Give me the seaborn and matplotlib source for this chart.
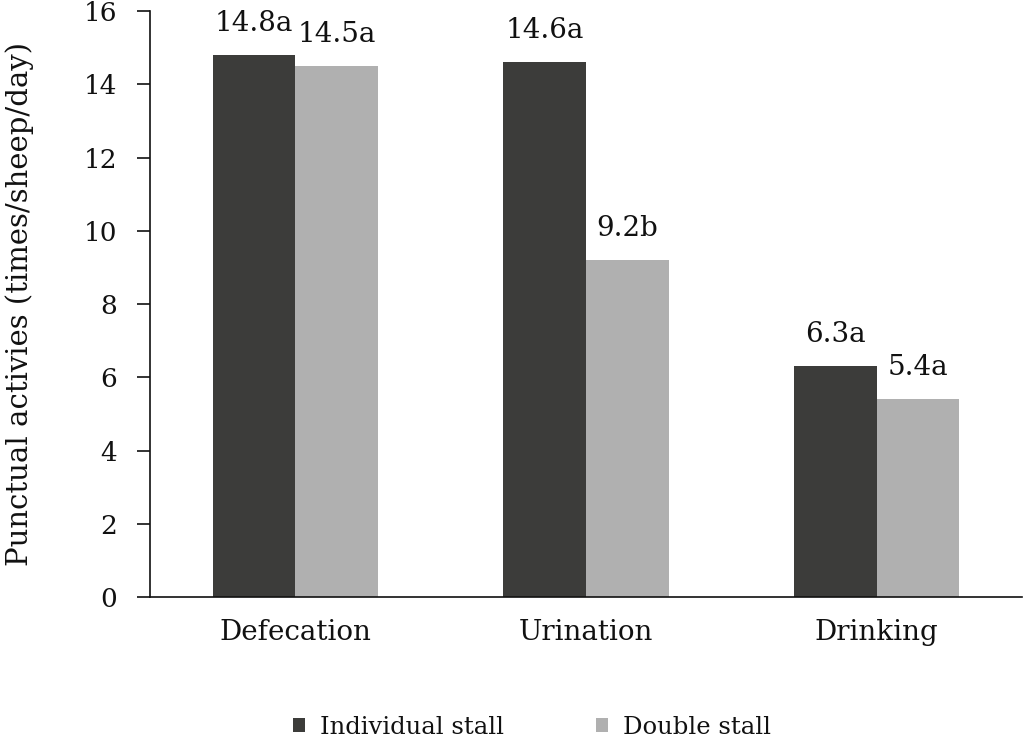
import matplotlib
matplotlib.use("Agg")
import matplotlib.pyplot as plt
import seaborn as sns
import pandas as pd

categories = ["Defecation", "Urination", "Drinking"]
individual = [14.8, 14.6, 6.3]
double = [14.5, 9.2, 5.4]
individual_letters = ["a", "a", "a"]
double_letters = ["a", "b", "a"]
series_names = ["Individual stall", "Double stall"]
yticks = [0, 2, 4, 6, 8, 10, 12, 14, 16]

df = pd.DataFrame({
    "cat": categories * 2,
    "val": individual + double,
    "series": [series_names[0]] * 3 + [series_names[1]] * 3,
})

sns.set_theme(style="white")
plt.rcParams["font.family"] = ["DejaVu Serif"]
plt.rcParams["text.color"] = "#111111"
plt.rcParams["xtick.color"] = "#111111"
plt.rcParams["ytick.color"] = "#111111"
plt.rcParams["axes.labelcolor"] = "#111111"

fig = plt.figure(figsize=(10.24, 7.41), dpi=100)
ax = fig.add_axes([0.1465, 0.1943, 0.8515, 0.7907])

sns.barplot(data=df, x="cat", y="val", hue="series", order=categories,
            hue_order=series_names, palette=["#3c3c3a", "#b0b0b0"],
            width=0.57, saturation=1, linewidth=0, ax=ax, legend=True)

labels_sets = [
    [f"{v}{l}" for v, l in zip(individual, individual_letters)],
    [f"{v}{l}" for v, l in zip(double, double_letters)],
]
for cont, labs in zip(ax.containers, labels_sets):
    ax.bar_label(cont, labels=labs, padding=13, fontsize=20, color="#111111")

ax.set_ylim(0, 16)
ax.set_xlim(-0.5, 2.5)
ax.set_yticks(yticks)
ax.set_xlabel("")
ax.set_ylabel("Punctual activies (times/sheep/day)", fontsize=21, labelpad=36)
ax.tick_params(axis="y", left=True, labelsize=19, length=9.5, width=1.2,
               direction="out", pad=14)
ax.tick_params(axis="x", bottom=False, labelsize=20, length=0, pad=16)
for s in ["top", "right"]:
    ax.spines[s].set_visible(False)
for s in ["left", "bottom"]:
    ax.spines[s].set_color("#111111")
    ax.spines[s].set_linewidth(1.2)

ax.legend_.remove()
handles, labs = ax.get_legend_handles_labels()
fig.legend(handles, labs, loc="center", bbox_to_anchor=(532 / 1024, 1 - 727 / 741),
           ncol=2, frameon=False, fontsize=17.5, handlelength=0.5, handleheight=0.5,
           columnspacing=3.8, handletextpad=0.62)

fig.savefig("out.png", dpi=100)
